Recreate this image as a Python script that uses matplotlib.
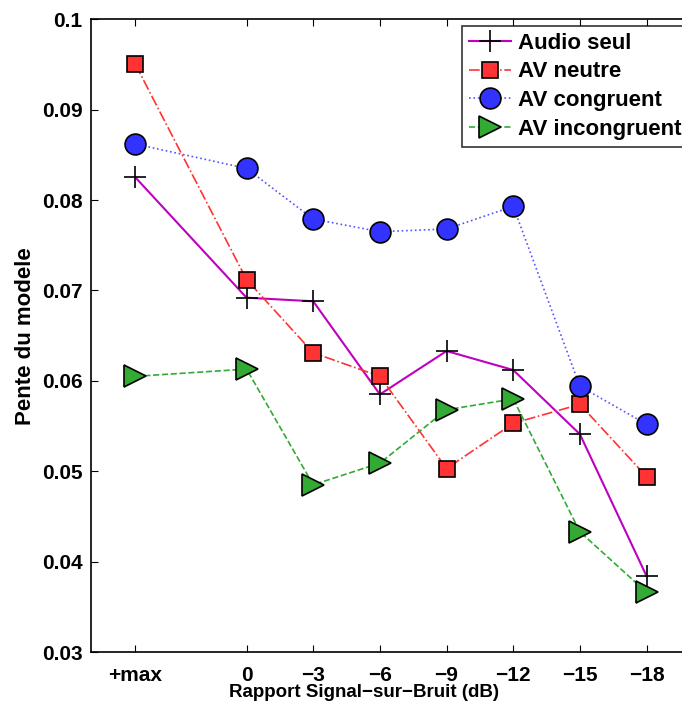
import numpy as np
import matplotlib
matplotlib.use("Agg")
import matplotlib.pyplot as plt

plt.rcParams['font.family'] = ['Liberation Sans', 'DejaVu Sans']
plt.rcParams['font.weight'] = 'bold'

# SNR positions (dB), +max drawn at +5
snr = [5, 0, -3, -6, -9, -12, -15, -18]
snr_labels = ['+max', '0', '\u22123', '\u22126', '\u22129', '\u221212', '\u221215', '\u221218']

audio_seul = [0.0825, 0.0692, 0.0688, 0.0585, 0.0633, 0.0612, 0.0541, 0.0384]
av_neutre = [0.0950, 0.0712, 0.0631, 0.0605, 0.0503, 0.0553, 0.0574, 0.0494]
av_congruent = [0.0862, 0.0835, 0.0779, 0.0765, 0.0768, 0.0793, 0.0594, 0.0552]
av_incongruent = [0.0605, 0.0613, 0.0485, 0.0509, 0.0568, 0.0580, 0.0433, 0.0366]

fig = plt.figure(figsize=(6.82, 7.04), dpi=100)
ax = fig.add_axes([91/682, 1-652/704, 600/682, (652-19.3)/704])

ax.plot(snr, audio_seul, '-', color='#BF00BF', lw=1.5, marker='+', ms=16,
        mec='black', mew=1.2, label='Audio seul')
ax.plot(snr, av_neutre, '-.', color='#FF3333', lw=1.2, marker='s', ms=12,
        mfc='#FF3333', mec='black', mew=1.2, label='AV neutre')
ax.plot(snr, av_congruent, ':', color='#5555FF', lw=1.2, marker='o', ms=15,
        mfc='#3333FF', mec='black', mew=1.2, label='AV congruent')
ax.plot(snr, av_incongruent, '--', color='#33AA33', lw=1.2, marker='>', ms=16,
        mfc='#33AA33', mec='black', mew=1.2, label='AV incongruent')

ax.set_xlim(7, -20)
ax.set_ylim(0.03, 0.1)
ax.set_xticks(snr)
ax.set_xticklabels(snr_labels)
ax.set_yticks([0.03, 0.04, 0.05, 0.06, 0.07, 0.08, 0.09, 0.1])
ax.set_yticklabels(['0.03', '0.04', '0.05', '0.06', '0.07', '0.08', '0.09', '0.1'])
ax.tick_params(direction='in', top=True, right=True, length=5, width=0.8,
               labelsize=15)
ax.tick_params(axis='x', pad=10)
ax.tick_params(axis='y', pad=6)
for lbl in ax.get_xticklabels() + ax.get_yticklabels():
    lbl.set_fontweight('bold')
for s in ax.spines.values():
    s.set_linewidth(1.2)

ax.set_xlabel('Rapport Signal\u2212sur\u2212Bruit (dB)', fontsize=13.5, fontweight='bold', labelpad=0)
ax.xaxis.set_label_coords(0.455, -0.05)
ax.set_ylabel('Pente du modele', fontsize=16, fontweight='bold', labelpad=4)

leg = ax.legend(loc='upper left', bbox_to_anchor=(462/682, 1-26/704),
                bbox_transform=fig.transFigure, fontsize=16, frameon=True,
                fancybox=False, edgecolor='black', handlelength=1.9,
                borderpad=0.3, labelspacing=0.35, handletextpad=0.3,
                borderaxespad=0)
leg.get_frame().set_linewidth(1.2)
for t in leg.get_texts():
    t.set_fontweight('bold')

fig.savefig('out.png', dpi=100)
